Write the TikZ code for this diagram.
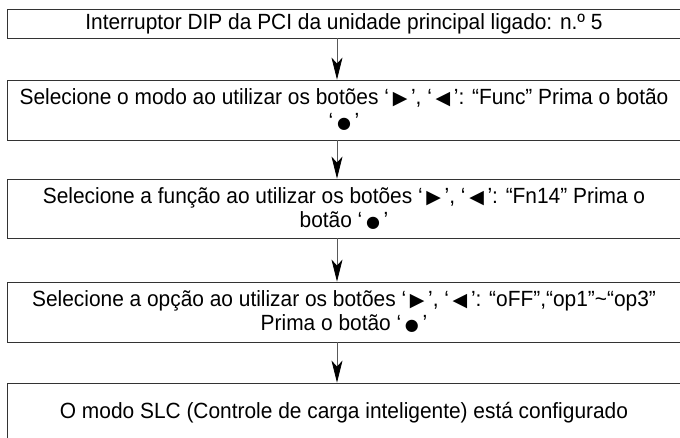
\documentclass[tikz,border=0pt]{standalone}
\usepackage{fontspec}
\setmainfont{Liberation Sans}[FakeStretch=0.95]
\newfontfamily\symfont{DejaVu Sans}
\usetikzlibrary{arrows.meta}
\newcommand{\rtri}{\,{\symfont\fontsize{19}{19}\selectfont ▶}\,}
\newcommand{\ltri}{\,{\symfont\fontsize{19}{19}\selectfont ◀}\,}
\newcommand{\bdot}{\,{\symfont\fontsize{16}{16}\selectfont ●}\,}
\begin{document}
\begin{tikzpicture}[x=1pt,y=-1pt,
  stepbox/.style={draw=black!80, line width=0.9pt, rectangle, minimum width=674pt,
    align=center, inner sep=0pt, font=\fontsize{22}{24}\selectfont},
  flowarrow/.style={draw=black!65, line width=0.8pt,
    -{Stealth[length=22pt, width=11pt, inset=6pt, color=black]}}]
\useasboundingbox (0,0) rectangle (680,437);
\node[stepbox, minimum height=29pt] (b1) at (344,23.5)
  {Interruptor DIP da PCI da unidade principal ligado: n.º 5};
\node[stepbox, minimum height=60pt] (b2) at (344,110)
  {Selecione o modo ao utilizar os botões ‘\rtri’, ‘\ltri’: “Func” Prima o botão\\ ‘\bdot’};
\node[stepbox, minimum height=59pt] (b3) at (344,208.5)
  {Selecione a função ao utilizar os botões ‘\rtri’, ‘\ltri’: “Fn14” Prima o\\ botão ‘\bdot’};
\node[stepbox, minimum height=60pt] (b4) at (344,312)
  {Selecione a opção ao utilizar os botões ‘\rtri’, ‘\ltri’: “oFF”,“op1”\textasciitilde“op3”\\ Prima o botão ‘\bdot’};
\node[stepbox, minimum height=60pt] (b5) at (344,413)
  {O modo SLC (Controle de carga inteligente) está configurado};
\draw[flowarrow] ([xshift=-7pt]b1.south) -- ([xshift=-7pt]b2.north);
\draw[flowarrow] ([xshift=-7pt]b2.south) -- ([xshift=-7pt]b3.north);
\draw[flowarrow] ([xshift=-7pt]b3.south) -- ([xshift=-7pt]b4.north);
\draw[flowarrow] ([xshift=-7pt]b4.south) -- ([xshift=-7pt]b5.north);
\end{tikzpicture}
\end{document}
